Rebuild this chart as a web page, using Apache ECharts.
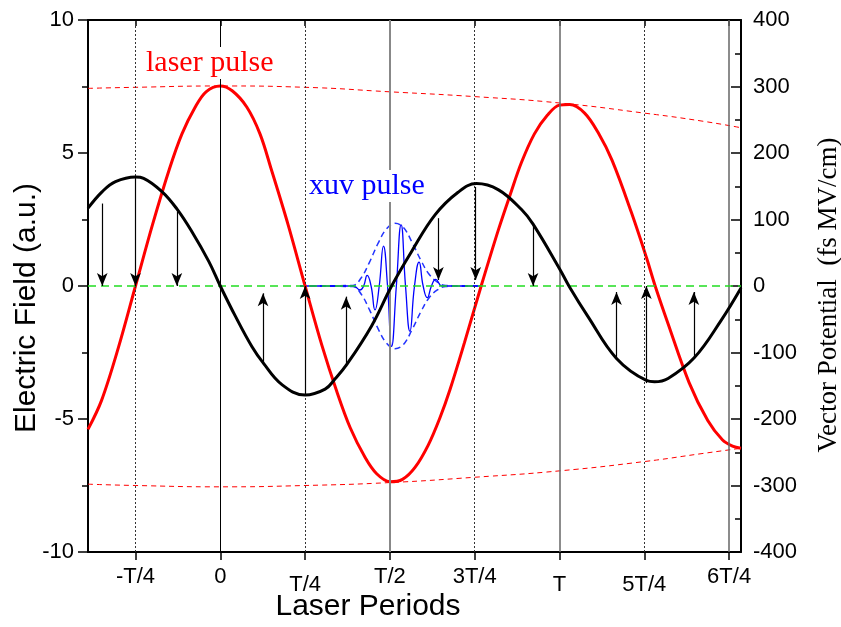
<!DOCTYPE html>
<html>
<head>
<meta charset="utf-8">
<script src="https://cdn.jsdelivr.net/npm/echarts@6/dist/echarts.min.js"></script>
<style>
  html, body { margin: 0; padding: 0; background: #fff; }
  #mainChart { width: 841px; height: 627px; }
</style>
</head>
<body>
<div id="mainChart"></div>
<script>
// x axis: time in laser periods (T = 1)
const tickValues = [-0.25, 0, 0.25, 0.5, 0.75, 1, 1.25, 1.5];
const tickLabels = ["-T/4", "0", "T/4", "T/2", "3T/4", "T", "5T/4", "6T/4"];
const tickLow = [false, false, true, false, false, true, true, false];
const solidLines = [0, 0.5, 1, 1.5];
const dottedLines = [-0.25, 0.25, 0.75, 1.25];

// laser electric field (a.u.)
const tLaser = [-0.39, -0.35, -0.3, -0.25, -0.2, -0.15, -0.113, -0.075, -0.042, 0, 0.035, 0.078, 0.117, 0.15, 0.2, 0.25,
  0.3, 0.343, 0.383, 0.427, 0.461, 0.5, 0.537, 0.574, 0.613, 0.647, 0.677, 0.72, 0.769, 0.82, 0.855, 0.888, 0.926,
  0.964, 1.0, 1.03, 1.074, 1.115, 1.155, 1.212, 1.256, 1.282, 1.32, 1.382, 1.437, 1.48, 1.51, 1.535];
const eLaser = [-5.39, -4.3, -2.3, 0, 2.3, 4.4, 5.72, 6.7, 7.3, 7.52, 7.34, 6.73, 5.72, 4.4, 2.3, 0,
  -2.25, -3.95, -5.33, -6.45, -7.06, -7.36, -7.27, -6.82, -5.98, -4.97, -3.9, -2.12, 0, 2.12, 3.45, 4.65, 5.72,
  6.42, 6.8, 6.82, 6.5, 5.74, 4.72, 2.76, 1.08, 0, -1.42, -3.63, -5.06, -5.78, -6.02, -6.1];

// laser envelope (a.u.)
const tEnv = [-0.39, -0.25, 0, 0.25, 0.5, 0.75, 1.0, 1.25, 1.42, 1.535];
const envUp = [7.43, 7.47, 7.52, 7.47, 7.3, 7.12, 6.88, 6.5, 6.2, 5.95];
const envLow = [-7.45, -7.5, -7.55, -7.5, -7.39, -7.19, -6.95, -6.6, -6.3, -6.1];

// vector potential (fs MV/cm)
const tVec = [-0.39, -0.348, -0.309, -0.25, -0.226, -0.172, -0.128, -0.084, -0.034, 0, 0.044, 0.093, 0.127, 0.181,
  0.25, 0.309, 0.338, 0.373, 0.446, 0.505, 0.564, 0.633, 0.701, 0.755, 0.819, 0.888, 0.922, 1.0, 1.029, 1.084,
  1.168, 1.256, 1.28, 1.32, 1.397, 1.476, 1.535];
const aVec = [117, 142, 157, 164, 162, 142, 116, 82, 37, 0, -45, -91, -116, -148,
  -164, -155, -140, -118, -60, 0, 52, 107, 141, 154, 145, 115, 93, 26, -1, -46,
  -109, -142, -144, -139, -108, -52, -3];

// xuv pulse (a.u.)
const tXuv = [0.235, 0.392, 0.412, 0.4225, 0.433, 0.4445, 0.456, 0.4685, 0.481, 0.493, 0.505, 0.519, 0.533, 0.546,
  0.559, 0.5725, 0.586, 0.598, 0.61, 0.6225, 0.635, 0.655, 0.77];
const eXuv = [0, 0, -0.15, 0, 0.4, 0, -0.9, 0, 1.5, 0, -2.27, 0, 2.3, 0, -1.7, 0, 0.9, 0, -0.44, 0, 0.25, 0, 0];
const tXenv = [0.235, 0.39, 0.415, 0.44, 0.465, 0.49, 0.515, 0.54, 0.565, 0.59, 0.615, 0.64, 0.665, 0.77];
const xEnvUp = [0, 0.02, 0.3, 0.9, 1.6, 2.15, 2.36, 2.2, 1.65, 1.0, 0.45, 0.15, 0.02, 0];
const xEnvLow = [0, -0.02, -0.3, -0.9, -1.6, -2.15, -2.36, -2.2, -1.65, -1.0, -0.45, -0.15, -0.02, 0];

// arrows from the vector potential to the zero line (fs MV/cm)
const arrowT = [-0.348, -0.25, -0.128, 0.126, 0.25, 0.371, 0.643, 0.753, 0.922, 1.168, 1.256, 1.396];
const arrowFrom = [124, 162, 112, -119, -164, -121, 102, 149, 94, -108, -146, -106];
const arrowTo = [0, 0, 0, -11, 0, -16, 9, 9, 0, -9, 0, -9];

const SANS = "Liberation Sans, Arial, sans-serif";
const SERIF = "Liberation Serif, Times New Roman, serif";

function pairs(xs, ys) {
  return xs.map((x, i) => [x, ys[i]]);
}

const myChart = echarts.init(document.getElementById("mainChart"), null, { renderer: "canvas" });

const vLines = [];
solidLines.forEach((v) => {
  let color = "#000";
  let width = 1;
  if (v === 0.5) { color = "#888"; width = 2; }
  if (v === 1 || v === 1.5) { color = "#666"; width = 1.5; }
  vLines.push({ xAxis: v, lineStyle: { color: color, width: width, type: "solid" } });
});
dottedLines.forEach((v) => {
  vLines.push({ xAxis: v, lineStyle: { color: "#333", width: 1, type: [2, 2] } });
});
vLines.push({ yAxis: 0, lineStyle: { color: "#22dd22", width: 1.5, type: [8, 5] } });

const axisLineStyle = { color: "#000", width: 2 };

const option = {
  animation: false,
  backgroundColor: "#fff",
  grid: { left: 88, right: 100, top: 20, bottom: 75, containLabel: false, outerBoundsMode: "none" },
  xAxis: [
    {
      type: "value", min: -0.39, max: 1.535, position: "bottom",
      axisLine: { onZero: false, lineStyle: axisLineStyle },
      axisTick: { show: true, inside: false, length: 8, customValues: tickValues, lineStyle: { color: "#000", width: 1.5 } },
      axisLabel: {
        customValues: tickValues, margin: 14,
        formatter: function (v) {
          const i = tickValues.findIndex((x) => Math.abs(x - v) < 1e-6);
          if (i < 0) return "";
          return (tickLow[i] ? "{lo|" : "{hi|") + tickLabels[i] + "}";
        },
        rich: {
          hi: { fontSize: 22, fontFamily: SANS, color: "#000" },
          lo: { fontSize: 22, fontFamily: SANS, color: "#000", padding: [8, 0, 0, 0] },
        },
      },
      splitLine: { show: false },
    },
    {
      type: "value", min: -0.39, max: 1.535, position: "top",
      axisLine: { onZero: false, lineStyle: axisLineStyle },
      axisTick: { show: true, inside: true, length: 6, customValues: tickValues, lineStyle: { color: "#000", width: 1.5 } },
      axisLabel: { show: false },
      splitLine: { show: false },
    },
  ],
  yAxis: [
    {
      type: "value", min: -10, max: 10, interval: 5, position: "left",
      axisLine: { show: true, onZero: false, lineStyle: axisLineStyle },
      axisTick: { show: true, inside: false, length: 10, lineStyle: { color: "#000", width: 1.5 } },
      minorTick: { show: true, splitNumber: 2, length: 6, lineStyle: { color: "#000", width: 1.5 } },
      axisLabel: { fontSize: 22, fontFamily: SANS, color: "#000", margin: 14 },
      splitLine: { show: false },
    },
    {
      type: "value", min: -400, max: 400, interval: 100, position: "right",
      axisLine: { show: true, onZero: false, lineStyle: axisLineStyle },
      axisTick: { show: true, inside: true, length: 10, lineStyle: { color: "#000", width: 1.5 } },
      minorTick: { show: true, splitNumber: 2, length: 6, lineStyle: { color: "#000", width: 1.5 } },
      axisLabel: { fontSize: 22, fontFamily: SANS, color: "#000", margin: 12 },
      splitLine: { show: false },
    },
  ],
  graphic: [
    { type: "text", x: 27, y: 308, rotation: Math.PI / 2, z: 100,
      style: { text: "Electric Field (a.u.)", font: "30px " + SANS, fill: "#000", align: "center", verticalAlign: "middle" } },
    { type: "text", x: 829, y: 295, rotation: Math.PI / 2, z: 100,
      style: { text: "Vector Potential  (fs MV/cm)", font: "27px " + SERIF, fill: "#000", align: "center", verticalAlign: "middle" } },
    { type: "text", x: 368, y: 607, z: 100,
      style: { text: "Laser Periods", font: "30px " + SANS, fill: "#000", align: "center", verticalAlign: "middle" } },
    { type: "text", x: 144, y: 63, z: 100,
      style: { text: "laser pulse", font: "30px " + SERIF, fill: "#ff0000", align: "left", verticalAlign: "middle",
        backgroundColor: "#fff", padding: [2, 2, 0, 2] } },
    { type: "text", x: 307, y: 186, z: 100,
      style: { text: "xuv pulse", font: "30px " + SERIF, fill: "#0000ff", align: "left", verticalAlign: "middle",
        backgroundColor: "#fff", padding: [2, 2, 0, 2] } },
  ],
  series: [
    {
      name: "lines", type: "line", xAxisIndex: 0, yAxisIndex: 0, data: [], z: 1,
      markLine: { silent: true, symbol: ["none", "none"], label: { show: false }, emphasis: { disabled: true }, data: vLines },
    },
    {
      name: "envelope up", type: "line", data: pairs(tEnv, envUp), symbol: "none", smooth: true, z: 2,
      lineStyle: { color: "#ff0000", width: 1, type: [5, 4] },
    },
    {
      name: "envelope low", type: "line", data: pairs(tEnv, envLow), symbol: "none", smooth: true, z: 2,
      lineStyle: { color: "#ff0000", width: 1, type: [5, 4] },
    },
    {
      name: "xuv envelope up", type: "line", data: pairs(tXenv, xEnvUp), symbol: "none", smooth: 0.4, z: 3,
      lineStyle: { color: "#2233ff", width: 1.5, type: [6, 4] },
    },
    {
      name: "xuv envelope low", type: "line", data: pairs(tXenv, xEnvLow), symbol: "none", smooth: 0.4, z: 3,
      lineStyle: { color: "#2233ff", width: 1.5, type: [6, 4] },
    },
    {
      name: "xuv pulse", type: "line", data: pairs(tXuv, eXuv), symbol: "none", smooth: 0.5, z: 3,
      lineStyle: { color: "#0000ff", width: 1.3 },
    },
    {
      name: "laser pulse", type: "line", data: pairs(tLaser, eLaser), symbol: "none", smooth: 0.35, z: 4,
      lineStyle: { color: "#ff0000", width: 3 },
    },
    {
      name: "vector potential", type: "line", yAxisIndex: 1, data: pairs(tVec, aVec), symbol: "none", smooth: 0.4, z: 5,
      lineStyle: { color: "#000", width: 3 },
    },
    {
      name: "arrows", type: "line", yAxisIndex: 1, data: [], z: 6,
      markLine: {
        silent: true, symbol: ["none", "arrow"], symbolSize: [8, 13], label: { show: false }, emphasis: { disabled: true },
        lineStyle: { color: "#000", width: 1.2, type: "solid" },
        data: arrowT.map((t, i) => [{ coord: [t, arrowFrom[i]] }, { coord: [t, arrowTo[i]] }]),
      },
    },
  ],
};

myChart.setOption(option);
</script>
</body>
</html>
